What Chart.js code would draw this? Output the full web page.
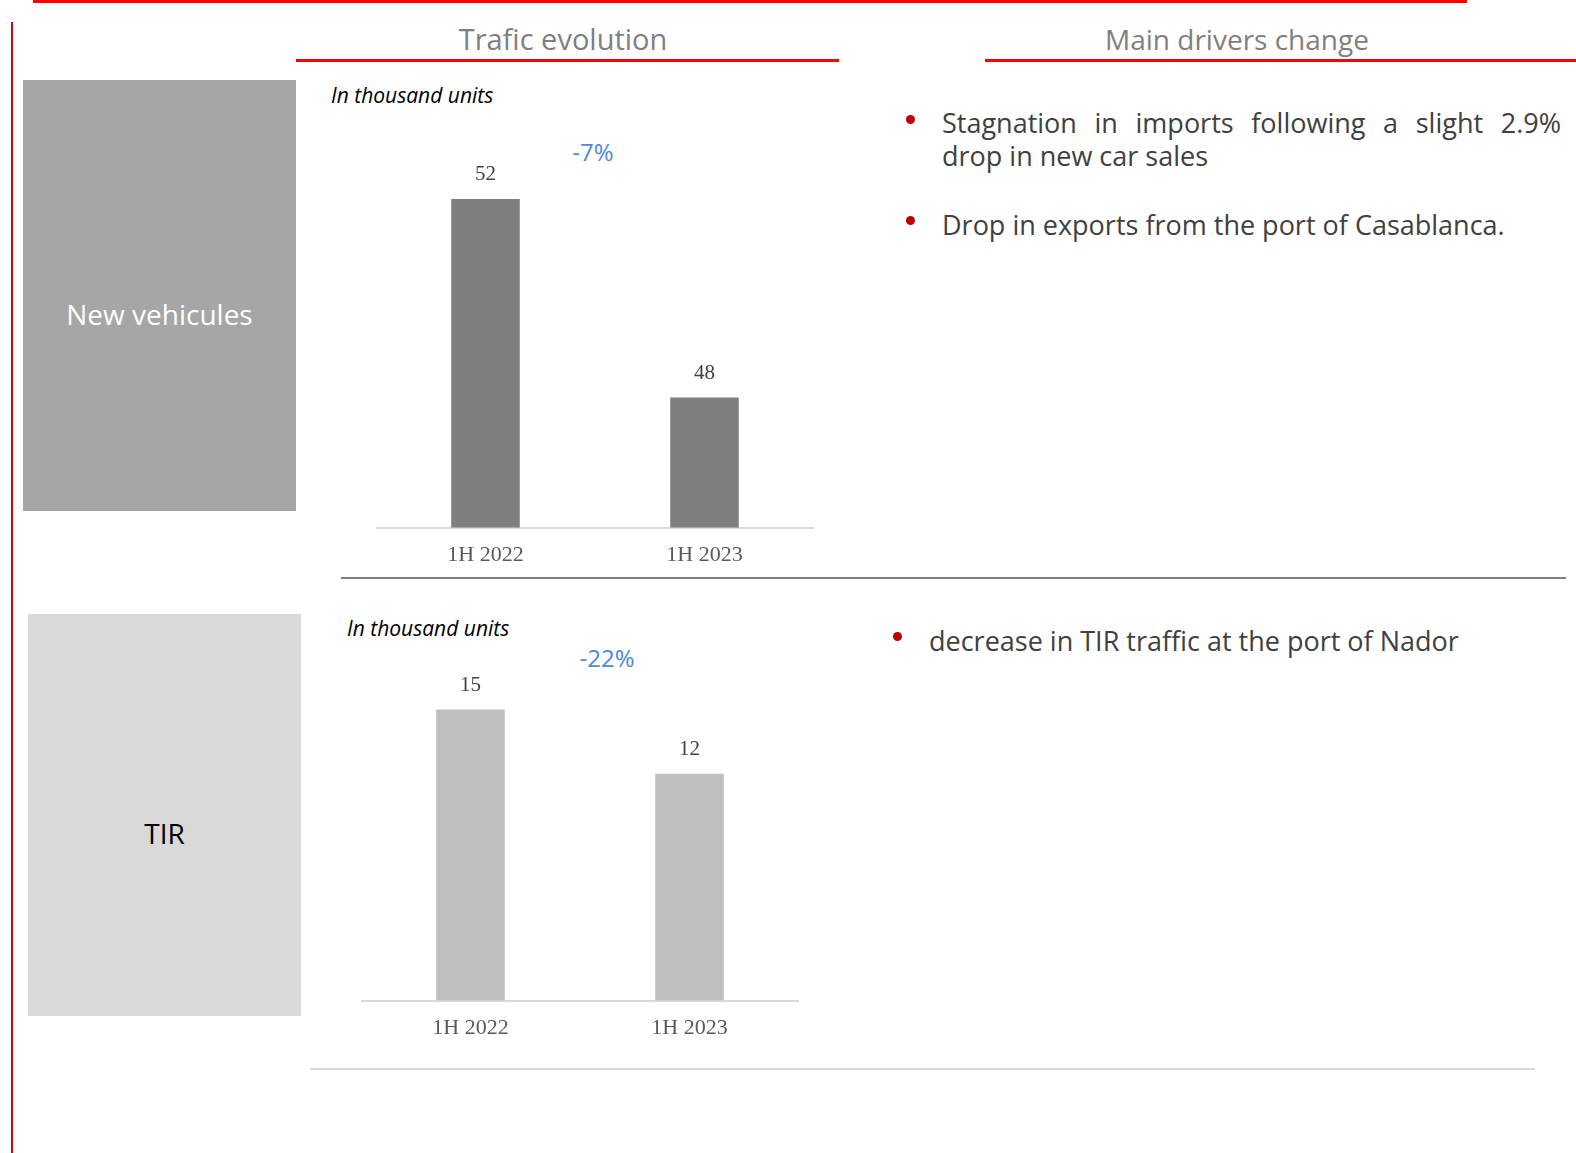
<!DOCTYPE html>
<html>
<head>
<meta charset="utf-8">
<script src="https://cdn.jsdelivr.net/npm/chart.js@4.4.0/dist/chart.umd.min.js"></script>
<style>
  body { margin: 0; background: #fff; }
  #page { position: relative; width: 1576px; height: 1153px; overflow: hidden; font-family: "Open Sans", Lato, sans-serif; }
  .rule { position: absolute; }
  .heading { position: absolute; font-size: 28px; color: #7f7f7f; line-height: 36px; text-align: center; white-space: nowrap; }
  .box { position: absolute; display: flex; align-items: center; justify-content: center; font-size: 28px; box-sizing: border-box; padding-top: 36px; }
  .unit { position: absolute; font-style: italic; font-size: 21px; color: #000; line-height: 26px; white-space: nowrap; }
  .change { position: absolute; font-size: 24px; color: #4f88d6; line-height: 30px; white-space: nowrap; transform: translateX(-50%); }
  .bullet { position: absolute; font-size: 27px; line-height: 33px; color: #404040; white-space: nowrap; }
  .bullet .just { text-align: justify; text-align-last: justify; }
  .dot { position: absolute; width: 9px; height: 9px; border-radius: 50%; background: #c00000; }
  canvas { position: absolute; }
</style>
</head>
<body>
<div id="page">
  <div class="rule" style="left:33px; top:0px; width:1434px; height:3px; background:#ff0000;"></div>
  <div class="rule" style="left:11px; top:22px; width:2px; height:1131px; background:#e00000;"></div>

  <div class="heading" style="left:296px; width:534px; top:21px; font-size:29px;">Trafic evolution</div>
  <div class="rule" style="left:296px; top:59px; width:543px; height:3px; background:#ff0000;"></div>
  <div class="heading" style="left:985px; width:504px; top:21px;">Main drivers change</div>
  <div class="rule" style="left:985px; top:59px; width:591px; height:3px; background:#ff0000;"></div>

  <div class="box" style="left:23px; top:80px; width:273px; height:431px; background:#a6a6a6; color:#fff;">New vehicules</div>
  <div class="box" style="left:28px; top:614px; width:273px; height:402px; background:#d9d9d9; color:#000;">TIR</div>

  <div class="unit" style="left:331px; top:82px;">In thousand units</div>
  <div class="unit" style="left:347px; top:615px;">In thousand units</div>

  <div class="change" id="chg1" style="left:593px; top:137px;"></div>
  <div class="change" id="chg2" style="left:607px; top:643px;"></div>

  <canvas id="chart1" width="438" height="452" style="left:376px; top:130px;"></canvas>
  <canvas id="chart2" width="438" height="415" style="left:361px; top:640px;"></canvas>

  <div class="rule" style="left:341px; top:577px; width:1225px; height:2px; background:#808080;"></div>
  <div class="rule" style="left:310px; top:1068px; width:1225px; height:2px; background:#d9d9d9;"></div>

  <div class="dot" style="left:906px; top:115px;"></div>
  <div class="bullet" style="left:942px; top:106px; width:619px;">
    <div class="just">Stagnation in imports following a slight 2.9%</div>
    <div>drop in new car sales</div>
  </div>
  <div class="dot" style="left:906px; top:216px;"></div>
  <div class="bullet" style="left:942px; top:208px;">Drop in exports from the port of Casablanca.</div>
  <div class="dot" style="left:893px; top:632px;"></div>
  <div class="bullet" style="left:929px; top:624px;">decrease in TIR traffic at the port of Nador</div>
</div>

<script>
const categories = ['1H 2022', '1H 2023'];
const newVehicles = [51.8, 48.2];   // thousand units
const tirUnits = [15.4, 12.0];      // thousand units
const changeLabels = ['-7%', '-22%'];

document.getElementById('chg1').textContent = changeLabels[0];
document.getElementById('chg2').textContent = changeLabels[1];

// writes the rounded value above each bar
const valueLabels = {
    id: 'valueLabels',
    afterDatasetsDraw(chart) {
        const ctx = chart.ctx;
        const meta = chart.getDatasetMeta(0);
        ctx.save();
        ctx.font = '21px "Liberation Serif", serif';
        ctx.fillStyle = '#404040';
        ctx.textAlign = 'center';
        ctx.textBaseline = 'middle';
        meta.data.forEach((bar, i) => {
            let v = chart.data.datasets[0].data[i];
            ctx.fillText(Math.round(v), bar.x, bar.y - 24);
        });
        ctx.restore();
    }
};

function dibujarBarras(id, valores, color, yMin, yMax) {
    let ctx = document.getElementById(id).getContext('2d');
    return new Chart(ctx, {
        type: 'bar',
        data: {
            labels: categories,
            datasets: [{
                data: valores,
                backgroundColor: color,
                barPercentage: 0.313,
                categoryPercentage: 1.0
            }]
        },
        options: {
            responsive: false,
            animation: false,
            layout: { padding: 0 },
            plugins: { legend: { display: false }, tooltip: { enabled: false } },
            scales: {
                x: {
                    grid: { display: false, drawTicks: false },
                    border: { display: true, color: '#d9d9d9', width: 2 },
                    ticks: {
                        color: '#595959',
                        padding: 14,
                        font: { family: '"Liberation Serif", serif', size: 22 }
                    }
                },
                y: { display: false, min: yMin, max: yMax }
            }
        },
        plugins: [valueLabels]
    });
}

dibujarBarras('chart1', newVehicles, '#7f7f7f', 45.84, 53.05);
dibujarBarras('chart2', tirUnits, '#bfbfbf', 0, 19.07);
</script>
</body>
</html>
